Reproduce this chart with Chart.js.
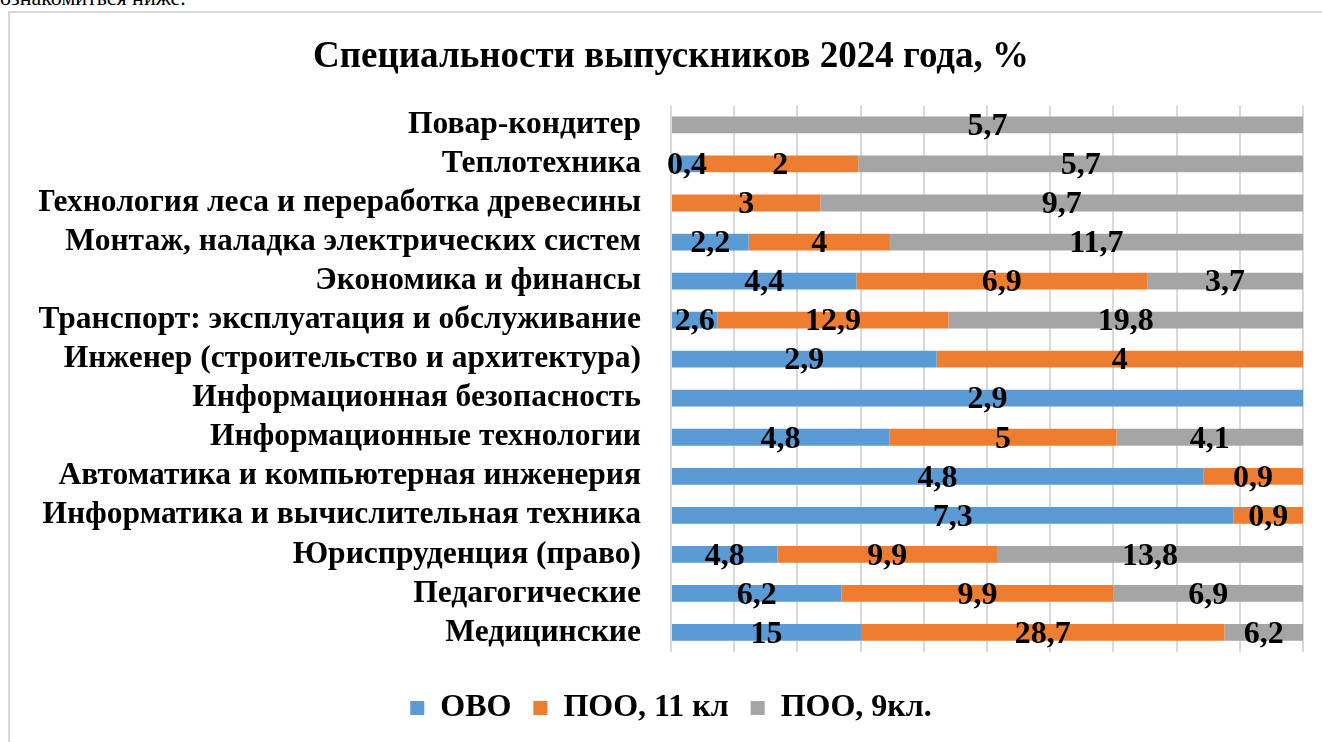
<!DOCTYPE html>
<html>
<head>
<meta charset="utf-8">
<script src="https://cdn.jsdelivr.net/npm/chart.js@4.4.1/dist/chart.umd.min.js"></script>
<style>
    body { margin: 0; width: 1322px; height: 742px; overflow: hidden; background: #fff; position: relative; }
    #topText { position: absolute; left: 0; top: -15px; font: 22px "Liberation Serif", serif; color: #000; }
    #frame { position: absolute; left: 8px; top: 11px; width: 1400px; height: 800px; border: 2px solid #d9d9d9; }
    #wrap { position: absolute; left: 0; top: 0; width: 1322px; height: 742px; }
</style>
</head>
<body>
<div id="topText">ознакомиться ниже.</div>
<div id="frame"></div>
<div id="wrap"><canvas id="myChart"></canvas></div>
<script>
    const categories = [
        "Повар-кондитер",
        "Теплотехника",
        "Технология леса и переработка древесины",
        "Монтаж, наладка электрических систем",
        "Экономика и финансы",
        "Транспорт: эксплуатация и обслуживание",
        "Инженер (строительство и архитектура)",
        "Информационная безопасность",
        "Информационные технологии",
        "Автоматика и компьютерная инженерия",
        "Информатика и вычислительная техника",
        "Юриспруденция (право)",
        "Педагогические",
        "Медицинские"
    ];
    const seriesNames = ["ОВО", "ПОО, 11 кл", "ПОО, 9кл."];
    const ovo   = [0, 0.4, 0, 2.2, 4.4, 2.6, 2.9, 2.9, 4.8, 4.8, 7.3, 4.8, 6.2, 15];
    const poo11 = [0, 2, 3, 4, 6.9, 12.9, 4, 0, 5, 0.9, 0.9, 9.9, 9.9, 28.7];
    const poo9  = [5.7, 5.7, 9.7, 11.7, 3.7, 19.8, 0, 0, 4.1, 0, 0, 13.8, 6.9, 6.2];
    const colors = ["#5B9BD5", "#ED7D31", "#A5A5A5"];

    const FONT = "'Liberation Serif', 'Times New Roman', serif";
    const rawSeries = [ovo, poo11, poo9];

    // 100% stacked: each row is scaled to its own total
    const totals = categories.map(function(c, i) {
        return ovo[i] + poo11[i] + poo9[i];
    });

    const datasets = rawSeries.map(function(arr, k) {
        return {
            label: seriesNames[k],
            data: arr.map(function(v, i) { return totals[i] ? v / totals[i] * 100 : 0; }),
            raw: arr,
            backgroundColor: colors[k],
            borderWidth: 0,
            barPercentage: 1,
            categoryPercentage: 0.43
        };
    });

    const valueLabels = {
        id: "valueLabels",
        afterDatasetsDraw(chart) {
            const ctx = chart.ctx;
            ctx.save();
            ctx.font = "bold 32px " + FONT;
            ctx.fillStyle = "#000";
            ctx.textAlign = "center";
            ctx.textBaseline = "middle";
            chart.data.datasets.forEach(function(ds, k) {
                const meta = chart.getDatasetMeta(k);
                meta.data.forEach(function(bar, i) {
                    const v = ds.raw[i];
                    if (!v) return;
                    const p = bar.getCenterPoint();
                    ctx.fillText(String(v).replace(".", ","), p.x, p.y + 2);
                });
            });
            ctx.restore();
        }
    };

    const config = {
        type: "bar",
        data: { labels: categories, datasets: datasets },
        options: {
            indexAxis: "y",
            responsive: true,
            maintainAspectRatio: false,
            animation: false,
            layout: { padding: { left: 39, right: 19, top: 0, bottom: 8 } },
            plugins: {
                title: {
                    display: true,
                    text: "Специальности выпускников 2024 года, %",
                    color: "#000",
                    font: { family: FONT, size: 37, weight: "bold" },
                    padding: { top: 35, bottom: 26 }
                },
                legend: {
                    position: "bottom",
                    labels: {
                        color: "#000",
                        boxWidth: 14,
                        boxHeight: 14,
                        padding: 22,
                        font: { family: FONT, size: 32, weight: "bold" }
                    }
                },
                tooltip: { enabled: false }
            },
            scales: {
                x: {
                    stacked: true,
                    min: 0,
                    max: 100,
                    ticks: { display: false, stepSize: 10 },
                    grid: { color: "#d9d9d9", lineWidth: 2, drawTicks: false },
                    border: { display: false },
                    afterFit: function(scale) { scale.height = 18; }
                },
                y: {
                    stacked: true,
                    grid: { display: false, drawTicks: false },
                    border: { display: false },
                    ticks: {
                        color: "#000",
                        autoSkip: false,
                        padding: 30,
                        font: { family: FONT, size: 31.5, weight: "bold" }
                    },
                    afterFit: function(scale) { scale.width = 632; }
                }
            }
        },
        plugins: [valueLabels]
    };

    const myChart = new Chart(document.getElementById("myChart"), config);
</script>
</body>
</html>
